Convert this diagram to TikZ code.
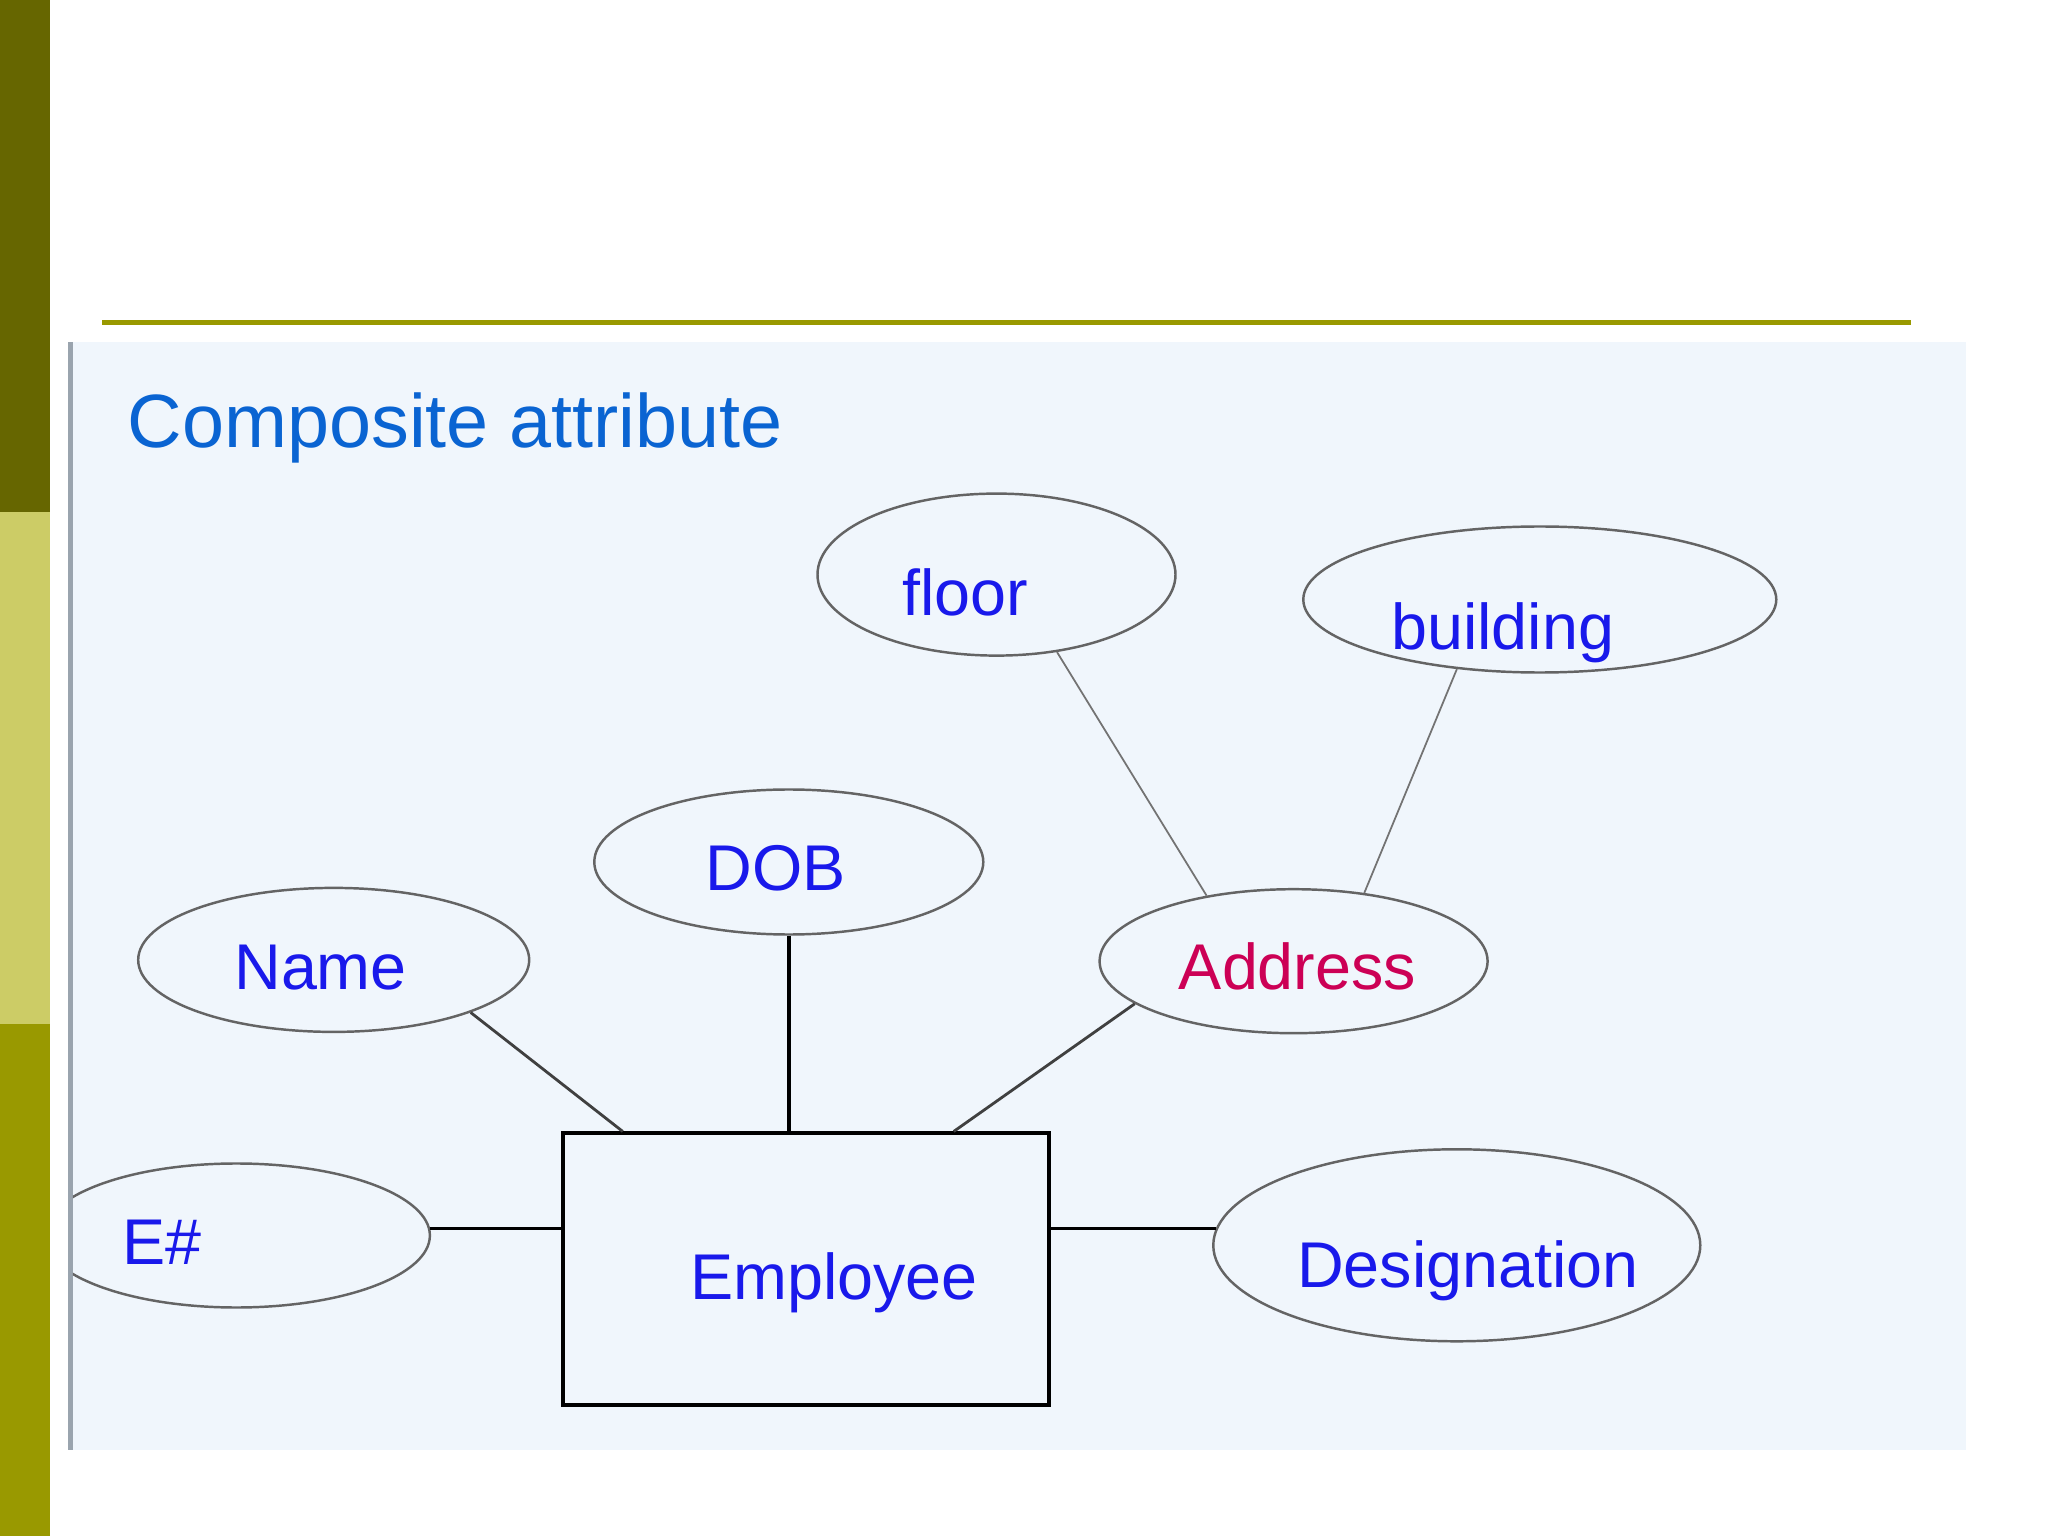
\documentclass[tikz,border=0pt]{standalone}
\usepackage{fontspec}
\setmainfont{Liberation Sans}
\usetikzlibrary{shapes.geometric, positioning}
\definecolor{barDark}{RGB}{102,102,0}
\definecolor{barLight}{RGB}{204,204,102}
\definecolor{barOlive}{RGB}{153,153,0}
\definecolor{panelBg}{RGB}{240,246,252}
\definecolor{panelEdge}{RGB}{154,164,174}
\definecolor{titleBlue}{RGB}{10,100,210}
\definecolor{attrBlue}{RGB}{25,25,235}
\definecolor{keyRed}{RGB}{204,0,85}
\definecolor{ellGray}{RGB}{100,100,100}

\begin{document}
\begin{tikzpicture}[
    attrib/.style={ellipse, draw=ellGray, line width=0.7pt, inner sep=0pt},
    entity/.style={rectangle, draw=black, line width=1.1pt, minimum width=4.86cm, minimum height=2.72cm, inner sep=0pt},
    txt/.style={font=\fontsize{18.4}{20}\selectfont, text=attrBlue, text height=0.46cm, text depth=0pt, inner sep=0pt},
    link/.style={draw=black, line width=1pt},
    midlink/.style={draw=black!75, line width=0.8pt},
    thinlink/.style={draw=black!55, line width=0.5pt}
]
\useasboundingbox (0,0) rectangle (20.48,-15.36);
\fill[white] (0,0) rectangle (20.48,-15.36);
% side bar
\fill[barDark]  (0,0)      rectangle (0.50,-5.12);
\fill[barLight] (0,-5.12)  rectangle (0.50,-10.24);
\fill[barOlive] (0,-10.24) rectangle (0.50,-15.36);
\draw[barOlive, line width=0.045cm] (1.02,-3.226) -- (19.11,-3.226);
% panel
\fill[panelBg] (0.69,-3.422) rectangle (19.655,-14.497);
\draw[panelEdge, line width=0.05cm] (0.705,-3.422) -- (0.705,-14.497);
\node[anchor=base west, inner sep=0pt, font=\fontsize{21.5}{24}\selectfont, text=titleBlue] (title) at (1.27,-4.48) {Composite attribute};

\begin{scope}
\clip (0.73,-3.422) rectangle (19.655,-14.497);
\node[entity, label={[txt, xshift=0.281cm, yshift=-0.070cm]center:Employee}] (emp) at (8.058,-12.694) {};
\node[attrib, minimum width=3.58cm, minimum height=1.62cm, label={[txt, xshift=-0.313cm, yshift=-0.175cm]center:floor}] (floor) at (9.965,-5.746) {};
\node[attrib, minimum width=4.73cm, minimum height=1.46cm, label={[txt, xshift=-0.372cm, yshift=-0.266cm]center:building}] (bldg) at (15.398,-5.995) {};
\node[attrib, minimum width=3.89cm, minimum height=1.45cm, label={[txt, xshift=-0.131cm, yshift=-0.051cm]center:DOB}] (dob) at (7.888,-8.620) {};
\node[attrib, minimum width=3.91cm, minimum height=1.44cm, label={[txt, xshift=-0.131cm, yshift=-0.070cm]center:Name}] (name) at (3.337,-9.599) {};
\node[attrib, minimum width=3.88cm, minimum height=1.44cm, label={[txt, text=keyRed, xshift=0.039cm, yshift=-0.057cm]center:Address}] (addr) at (12.936,-9.612) {};
\node[attrib, minimum width=3.87cm, minimum height=1.44cm, label={[txt, xshift=-0.744cm, yshift=-0.057cm]center:E\#}] (ehash) at (2.364,-12.355) {};
\node[attrib, minimum width=4.87cm, minimum height=1.92cm, label={[txt, xshift=0.111cm, yshift=-0.194cm]center:Designation}] (desig) at (14.568,-12.453) {};
\end{scope}

\draw[thinlink] (floor.-52) -- (addr.143.7);
\draw[thinlink] (bldg.-140.5) -- (addr.44);
\draw[midlink] (name.-21.4) -- (emp.143.2);
\draw[link] (dob.south) -- (dob.south |- emp.north);
\draw[midlink] (addr.-165.2) -- (emp.43.9);
\draw[link] (ehash.2) -- (ehash.2 -| emp.west);
\draw[link] (desig.176) -- (desig.176 -| emp.east);
\end{tikzpicture}
\end{document}
